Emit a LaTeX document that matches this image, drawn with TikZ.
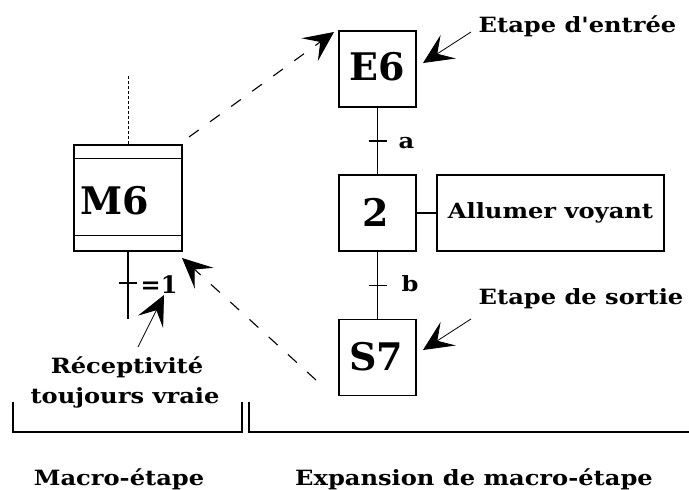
\documentclass[tikz,border=0pt]{standalone}
\usepackage{fontspec}
\setmainfont{DejaVu Serif}
\newfontfamily\lblfont[FakeStretch=1.15]{DejaVu Serif}
\usetikzlibrary{arrows.meta}
\begin{document}
\begin{tikzpicture}[x=1pt,y=-1pt,line width=1.4pt,
  stepbox/.style={draw,minimum width=77pt,minimum height=76pt,inner sep=0pt},
  big/.style={font=\bfseries\fontsize{38}{40}\selectfont,inner sep=0pt},
  lbl/.style={font=\lblfont\bfseries\fontsize{21}{24}\selectfont,inner sep=0pt},
  head/.style={-{Stealth[length=30pt,width=28pt,inset=13pt]}},
  pointer/.style={line width=0.8pt,head},
  dasharrow/.style={line width=1.1pt,dash pattern=on 12pt off 14pt,head},
  bracket/.style={line width=1.5pt}
]
\useasboundingbox (0,0) rectangle (689,490);

% macro-step
\node[stepbox,minimum width=108pt,minimum height=106pt] (M6) at (128,198) {};
\draw ([yshift=-14pt]M6.north west) -- ([yshift=-14pt]M6.north east);
\draw ([yshift=16pt]M6.south west) -- ([yshift=16pt]M6.south east);
\node[big,anchor=base west] (m6t) at (80,214) {M6};
\coordinate (m6top) at (128,76);
\draw[line width=1pt,dash pattern=on 3pt off 2pt] (m6top) -- (M6.north);
\coordinate (m6end) at (128,319);
\draw (M6.south) -- (m6end);
\coordinate (tm) at (128,283);
\draw ([xshift=-9pt]tm) -- ([xshift=9pt]tm);
\node[anchor=base west,font=\bfseries\fontsize{24}{26}\selectfont,inner sep=0pt] (eq1) at (140,293) {=1};

% expansion
\node[stepbox] (E6) at (377.5,69) {};
\node[big,anchor=base] (e6t) at (377,80) {E6};
\node[stepbox] (n2) at (377.5,213) {};
\node[big,anchor=base] (n2t) at (376,226) {2};
\node[stepbox] (S7) at (377.5,357.5) {};
\node[big,anchor=base] (s7t) at (376,370) {S7};
\node[draw,minimum width=227pt,minimum height=76pt,lbl] (act) at (550.5,213) {Allumer voyant};
\draw (n2.east) -- (act.west);

\draw (E6.south) -- (n2.north);
\path (E6.south) -- (n2.north) coordinate[midway] (ta);
\draw ([xshift=-9pt]ta) -- ([xshift=9pt]ta);
\node[lbl,anchor=base west] (la) at (398,148) {a};

\draw (n2.south) -- (S7.north);
\path (n2.south) -- (S7.north) coordinate[midway] (tb);
\draw ([xshift=-9pt]tb) -- ([xshift=9pt]tb);
\node[lbl,anchor=base west] (lb) at (401,291) {b};

% annotations
\node[lbl,anchor=base west] (entree) at (478,32) {Etape d'entrée};
\node[lbl,anchor=base west] (sortie) at (478,304) {Etape de sortie};
\coordinate (pe1) at (471,32); \coordinate (pe2) at (423,63);
\draw[pointer] (pe1) -- (pe2);
\coordinate (ps1) at (471,319); \coordinate (ps2) at (423,350);
\draw[pointer] (ps1) -- (ps2);
\node[lbl,anchor=base] (rec1) at (127,373) {Réceptivité};
\node[lbl,anchor=base] (rec2) at (125,403) {toujours vraie};
\coordinate (pr1) at (138,347); \coordinate (pr2) at (164,295);
\draw[pointer] (pr1) -- (pr2);

% dashed links
\coordinate (d1s) at (189,137); \coordinate (d1e) at (334,32);
\draw[dasharrow] (d1s) -- (d1e);
\coordinate (d2s) at (316,380); \coordinate (d2e) at (182,258);
\draw[dasharrow] (d2s) -- (d2e);

% brackets
\draw[bracket] (13,402) -- (13,432) -- (242,432) -- (242,402);
\draw[bracket] (249,402) -- (249,432) -- (689,432);
\node[lbl,anchor=base] (macro) at (119,485) {Macro-étape};
\node[lbl,anchor=base] (expan) at (474,485) {Expansion de macro-étape};
\end{tikzpicture}
\end{document}
